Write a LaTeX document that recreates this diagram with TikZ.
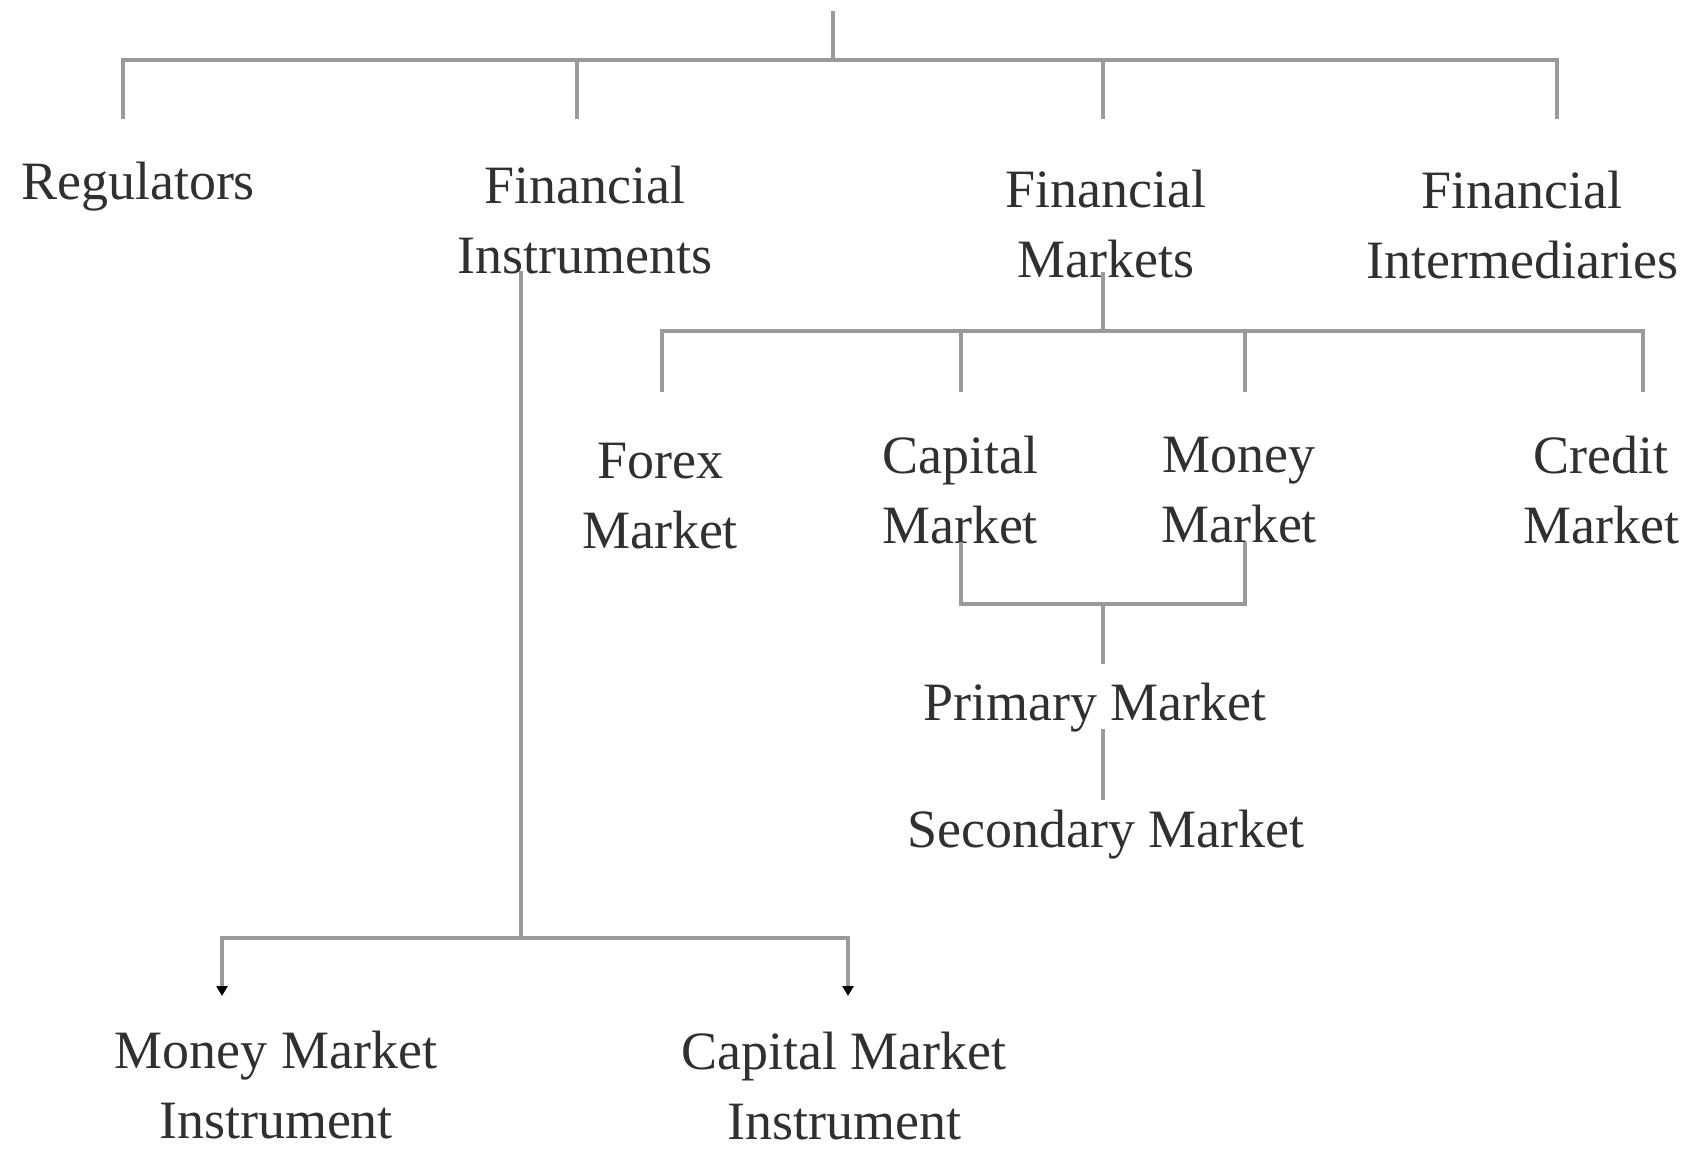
\documentclass[tikz,border=0pt]{standalone}
\usepackage{fontspec}
\setmainfont{Liberation Serif}
\usetikzlibrary{arrows.meta}
\definecolor{linegray}{HTML}{9A9A9A}
\definecolor{textgray}{HTML}{303030}
\begin{document}
\begin{tikzpicture}[x=0.5pt,y=-0.5pt,
  lbl/.style={inner sep=0pt, align=center, text=textgray, font=\fontsize{27}{35}\selectfont},
  conn/.style={draw=linegray, line width=1.6pt, line join=miter},
  arr/.style={conn, -{Triangle[length=5pt,width=5.5pt,fill=black,color=black]}}]
\useasboundingbox (0,0) rectangle (1700,1153);
\clip (0,0) rectangle (1700,1153);
% labels
\node[lbl] (reg) at (138,187) {Regulators};
\node[lbl] (fi) at (585,220) {Financial\\Instruments};
\node[lbl] (fm) at (1106,224) {Financial\\Markets};
\node[lbl] (fint) at (1522,225) {Financial\\Intermediaries};
\node[lbl] (forex) at (660,496) {Forex\\Market};
\node[lbl] (cap) at (960,490) {Capital\\Market};
\node[lbl] (mon) at (1239,490) {Money\\Market};
\node[lbl] (cred) at (1601,490) {Credit\\Market};
\node[lbl] (prim) at (1095,708) {Primary Market};
\node[lbl] (sec) at (1106,835) {Secondary Market};
\node[lbl] (mmi) at (276,1085) {Money Market\\Instrument};
\node[lbl] (cmi) at (844,1086) {Capital Market\\Instrument};
% top level
\coordinate (root) at (833,11);
\coordinate (j0) at (833,60);
\coordinate (d1) at (123,119);
\coordinate (d2) at (577,119);
\coordinate (d3) at (1103,119);
\coordinate (d4) at (1557,119);
\draw[conn] (root) -- (j0);
\draw[conn] (d1) |- (j0) -| (d4);
\draw[conn] (d2) -- (d2 |- j0);
\draw[conn] (d3) -- (d3 |- j0);
% financial markets branch
\coordinate (fmb) at (1103,272);
\coordinate (j1) at (1103,331);
\coordinate (e1) at (662,392);
\coordinate (e2) at (961,392);
\coordinate (e3) at (1245,392);
\coordinate (e4) at (1643,392);
\draw[conn] (fmb) -- (j1);
\draw[conn] (e1) |- (j1) -| (e4);
\draw[conn] (e2) -- (e2 |- j1);
\draw[conn] (e3) -- (e3 |- j1);
% capital/money to primary
\coordinate (cb) at (961,542);
\coordinate (mb) at (1245,542);
\coordinate (j2) at (1103,604);
\coordinate (pt) at (1103,664);
\draw[conn] (cb) |- (j2) -| (mb);
\draw[conn] (j2) -- (pt);
\coordinate (pb) at (1103,729);
\coordinate (st) at (1103,800);
\draw[conn] (pb) -- (st);
% financial instruments branch
\coordinate (fib) at (521,271);
\coordinate (j3) at (521,938);
\coordinate (a1) at (222,996);
\coordinate (a2) at (848,996);
\draw[conn] (fib) -- ([yshift=-0.5pt]j3);
\draw[arr] (j3) -| (a1);
\draw[arr] (j3) -| (a2);
\end{tikzpicture}
\end{document}
